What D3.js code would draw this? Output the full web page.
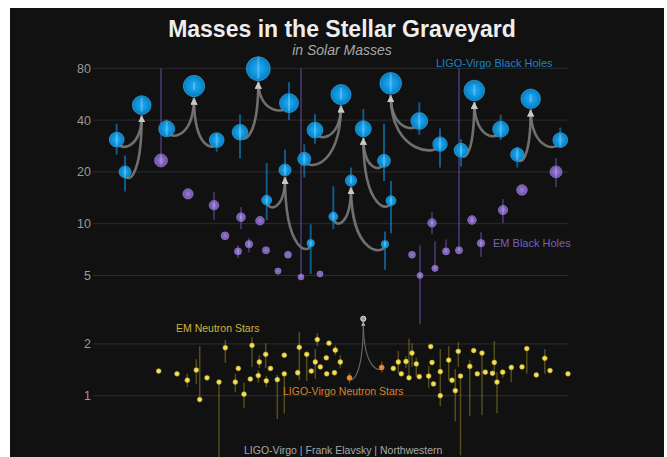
<!DOCTYPE html>
<html>
<head>
<meta charset="utf-8">
<script src="https://cdn.jsdelivr.net/npm/d3@7"></script>
<style>
  body { margin: 0; background: #fff; }
  svg { display: block; font-family: "Liberation Sans", Arial, sans-serif; }
</style>
</head>
<body>
<div id="chart"></div>
<script>
// Masses in solar masses. Each entry is [median, low, high].
// Slots are horizontal positions on an arbitrary 0..475 layout axis.

// LIGO-Virgo binary black hole mergers (GWTC-1)
const bbhEvents = ["GW150914", "GW151012", "GW151226", "GW170104", "GW170608",
                   "GW170729", "GW170809", "GW170814", "GW170818", "GW170823"];
const bbhPrimary = [[35.6, 32.5, 40.3], [23.2, 17.7, 38.1], [13.7, 10.5, 22.5], [30.8, 25.2, 38.1], [11.0, 9.3, 16.5],
                    [50.2, 40.0, 66.4], [35.0, 29.1, 43.3], [30.6, 27.6, 36.2], [35.4, 30.7, 42.9], [39.5, 32.8, 50.7]];
const bbhSecondary = [[30.6, 26.2, 33.6], [13.6, 8.8, 17.7], [7.7, 5.1, 9.9], [20.0, 15.4, 24.9], [7.6, 5.4, 9.0],
                      [34.0, 23.9, 43.1], [23.8, 18.6, 28.9], [25.2, 21.2, 28.0], [26.7, 21.5, 31.0], [29.0, 21.2, 35.7]];
const bbhFinal = [[63.1, 60.1, 66.5], [35.6, 31.8, 46.4], [20.5, 19.0, 26.9], [48.9, 44.9, 54.0], [17.8, 17.1, 21.2],
                  [79.5, 69.3, 94.2], [56.3, 52.5, 61.5], [53.2, 50.7, 56.4], [59.4, 55.6, 64.3], [65.4, 58.0, 75.5]];
// slot of [primary, secondary, remnant]
const bbhSlots = [[73.7, 123.7, 101], [291, 298, 270.3], [173.7, 217.7, 192], [23.7, 32, 48.7], [240.3, 292, 258],
                  [196, 147, 165.3], [222, 211.3, 248], [467.3, 424.3, 437.7], [407.7, 368, 381.3], [326.3, 347, 297.7]];

// LIGO-Virgo binary neutron star merger GW170817
const bnsPrimary = [1.46, 1.36, 1.58];
const bnsSecondary = [1.27, 1.18, 1.36];
const bnsFinal = [2.8, 2.8, 2.8];
const bnsSlots = [288.7, 256.5, 270.3];

// EM black holes (X-ray binaries)
const emBhSlots = [68, 95, 121, 148, 167, 132, 145, 156, 173, 195, 185, 208,
                   227, 319, 327, 339, 342, 353, 366, 379, 388, 410, 429, 463];
const emBhMass = [23.3, 14.9, 12.8, 10.9, 10.4, 8.5, 6.9, 7.6, 7.0, 6.6, 5.3, 4.9,
                  5.1, 6.6, 5.0, 10.1, 5.5, 6.9, 7.0, 10.5, 7.7, 12.0, 15.7, 20.0];
const emBhLow = [22.0, 14.9, 10.5, 9.3, 10.4, 8.5, 6.3, 6.8, 7.0, 6.6, 5.3, 4.9,
                 5.1, 6.6, 2.6, 8.7, 5.5, 6.9, 7.0, 10.0, 6.4, 10.1, 15.7, 16.3];
const emBhHigh = [80, 14.9, 15.3, 12.5, 10.4, 8.5, 7.5, 8.25, 7.0, 6.6, 5.3, 80,
                  5.1, 6.6, 7.5, 11.7, 7.9, 8.1, 80, 11.0, 8.9, 13.9, 15.7, 24.1];

// EM neutron stars (pulsars)
const emNsSlots = [65.7, 84, 94.3, 103.3, 106.7, 114, 126, 132.3, 142.3, 145.3, 151, 157.3,
                   159, 165.3, 166.3, 172.7, 173.3, 177.5, 184.3, 191.3, 191.3, 204.7, 206.3, 213.7,
                   218.3, 222.3, 224.3, 227.3, 233.3, 233.7, 236, 241.5, 242.3, 247.3,
                   300.3, 305.3, 308.3, 313, 316, 319, 323.3, 326.3, 335.7, 337.7, 339, 340.5,
                   347.3, 347.3, 355.7, 359, 362.3, 365.3, 367.5, 376.8, 380.7, 384.3, 389, 392.3,
                   399.5, 401.3, 404, 409.7, 418.3, 429, 433.8, 443.3, 451.8, 457, 475];
const emNsMass = [1.39, 1.34, 1.23, 1.41, 0.95, 1.27, 1.20, 1.90, 1.20, 1.44, 1.02, 1.25,
                  1.96, 1.31, 1.57, 1.74, 1.22, 1.44, 1.24, 1.72, 1.34, 1.36, 1.91, 1.74,
                  1.39, 1.57, 2.12, 1.47, 1.66, 1.34, 2.02, 1.36, 1.84, 1.57,
                  1.44, 1.57, 1.34, 1.58, 1.27, 1.77, 1.53, 1.29, 1.30, 1.93, 1.56, 1.17,
                  1.38, 1.00, 1.61, 1.23, 1.07, 1.81, 1.30, 1.48, 1.83, 1.34, 1.77, 1.37,
                  1.35, 1.56, 1.20, 1.37, 1.46, 1.47, 1.88, 1.32, 1.65, 1.40, 1.34];
const emNsLow = [1.39, 1.34, 1.12, 1.17, 0.95, 1.27, 0.40, 1.55, 1.05, 1.44, 0.85, 1.25,
                 1.47, 1.19, 1.45, 1.45, 1.12, 1.44, 0.73, 1.72, 0.79, 1.31, 1.23, 1.22,
                 1.39, 1.25, 1.94, 1.47, 1.66, 1.34, 2.02, 1.36, 1.72, 1.45,
                 1.44, 1.36, 1.34, 1.45, 1.27, 1.47, 1.29, 1.29, 1.11, 1.93, 1.56, 1.17,
                 0.87, 1.00, 1.23, 1.23, 0.71, 1.47, 0.45, 0.76, 1.83, 1.34, 0.77, 1.37,
                 1.35, 1.37, 0.79, 1.27, 1.20, 1.47, 1.34, 1.32, 1.34, 1.40, 1.34];
const emNsHigh = [1.39, 1.34, 1.34, 1.63, 1.94, 1.27, 1.20, 2.11, 1.34, 1.44, 1.19, 1.25,
                  2.19, 1.41, 1.72, 2.02, 1.30, 1.44, 1.32, 1.72, 1.34, 1.42, 2.35, 1.74,
                  1.39, 1.87, 2.31, 1.47, 1.66, 1.34, 2.02, 1.36, 1.96, 1.72,
                  1.44, 1.82, 1.34, 1.70, 2.14, 2.02, 1.66, 1.29, 1.49, 1.93, 1.56, 1.17,
                  1.87, 1.00, 1.94, 1.23, 1.43, 2.05, 1.30, 1.61, 1.83, 1.34, 1.77, 1.37,
                  1.35, 2.08, 1.37, 1.37, 1.46, 1.47, 1.88, 1.32, 1.87, 1.40, 1.34];

const massTicks = [1, 2, 5, 10, 20, 40, 80];

const width = 667, height = 457;

const x = d3.scaleLinear().domain([0, 475]).range([93, 568]);
const y = d3.scaleLog().domain([1, 80]).range([395.7, 68.3]);
const r = d3.scaleSqrt().domain([0, 80]).range([0, 12]);

const svg = d3.select("#chart")
    .append("svg")
    .attr("width", width)
    .attr("height", height);

svg.append("rect")
    .attr("x", 10).attr("y", 8)
    .attr("width", 654).attr("height", height - 8)
    .attr("fill", "#111111");

const defs = svg.append("defs");

function radial(id, inner, mid, outer) {
    const g = defs.append("radialGradient").attr("id", id);
    g.append("stop").attr("offset", "0%").attr("stop-color", inner);
    g.append("stop").attr("offset", "70%").attr("stop-color", mid);
    g.append("stop").attr("offset", "100%").attr("stop-color", outer);
}
radial("gBlue", "#2aaaf0", "#0a90d8", "#0679bd");
radial("gPurple", "#9a80d6", "#7c5db6", "#6a4ea2");
radial("gYellow", "#fff07a", "#ead23a", "#c9aa1e");
radial("gOrange", "#ffa040", "#e9801c", "#c86a10");

function arrowMarker(id, size, color) {
    defs.append("marker")
        .attr("id", id)
        .attr("viewBox", "0 0 10 10")
        .attr("refX", 10).attr("refY", 5)
        .attr("markerUnits", "userSpaceOnUse")
        .attr("markerWidth", size).attr("markerHeight", size)
        .attr("orient", "auto")
        .append("path")
        .attr("d", "M0,0 L10,5 L0,10 Z")
        .attr("fill", color);
}
arrowMarker("arrowBh", 7, "#c8c8c8");
arrowMarker("arrowNs", 4, "#aaaaaa");

// Grid and axis labels
svg.append("g")
    .selectAll("line")
    .data(massTicks)
    .join("line")
    .attr("x1", 93).attr("x2", 568)
    .attr("y1", d => y(d)).attr("y2", d => y(d))
    .attr("stroke", "#2c2c2c");

svg.append("g")
    .selectAll("text")
    .data(massTicks)
    .join("text")
    .attr("x", 91)
    .attr("y", d => y(d))
    .attr("dy", "0.36em")
    .attr("text-anchor", "end")
    .attr("font-size", "12.5px")
    .attr("fill", "#9a9a9a")
    .text(d => d);

// Merger links: dip below the source, then rise into the remnant
function link(x1, y1, x2, y2, k) {
    return `M${x1},${y1} C${x1},${y1 + k} ${x2},${y1 + k} ${x2},${y2}`;
}

const links = svg.append("g").attr("fill", "none");
bbhEvents.forEach((name, i) => {
    const s = bbhSlots[i];
    const fx = x(s[2]);
    const fy = y(bbhFinal[i][0]) + r(bbhFinal[i][0]) + 1;
    [bbhPrimary[i], bbhSecondary[i]].forEach((m, j) => {
        links.append("path")
            .attr("d", link(x(s[j]), y(m[0]), fx, fy, 12))
            .attr("stroke", "#7a7a7a")
            .attr("stroke-width", 2.6)
            .attr("stroke-opacity", 0.9)
            .attr("marker-end", "url(#arrowBh)");
    });
});
[bnsPrimary, bnsSecondary].forEach((m, j) => {
    links.append("path")
        .attr("d", link(x(bnsSlots[j]), y(m[0]), x(bnsSlots[2]), y(bnsFinal[0]) + 3, 5))
        .attr("stroke", "#6a6a6a")
        .attr("stroke-width", 1.1)
        .attr("marker-end", "url(#arrowNs)");
});

// Draws error bars behind, the body, and a light inner stripe on top
function drawBodies(items, opts) {
    const g = svg.append("g");
    g.selectAll("line.err")
        .data(items.filter(d => d.hi > d.lo))
        .join("line")
        .attr("class", "err")
        .attr("x1", d => x(d.slot)).attr("x2", d => x(d.slot))
        .attr("y1", d => y(d.hi)).attr("y2", d => y(d.lo))
        .attr("stroke", opts.err)
        .attr("stroke-width", opts.errWidth);
    g.selectAll("circle")
        .data(items)
        .join("circle")
        .attr("cx", d => x(d.slot))
        .attr("cy", d => y(d.m))
        .attr("r", d => Math.max(opts.minR, r(d.m)))
        .attr("fill", opts.fill)
        .attr("stroke", opts.stroke)
        .attr("stroke-width", 0.8);
    if (opts.inner) {
        g.selectAll("line.inner")
            .data(items.filter(d => d.hi > d.lo))
            .join("line")
            .attr("class", "inner")
            .attr("x1", d => x(d.slot)).attr("x2", d => x(d.slot))
            .attr("y1", d => Math.max(y(d.hi), y(d.m) - r(d.m) + 1))
            .attr("y2", d => Math.min(y(d.lo), y(d.m) + r(d.m) - 1))
            .attr("stroke", opts.inner)
            .attr("stroke-width", opts.errWidth);
    }
}

const emBh = emBhMass.map((m, i) => ({ slot: emBhSlots[i], m: m, lo: emBhLow[i], hi: emBhHigh[i] }));
drawBodies(emBh, { err: "rgba(120,90,200,0.42)", errWidth: 2, fill: "url(#gPurple)",
                   stroke: "rgba(170,145,225,0.7)", minR: 2, inner: "rgba(190,170,250,0.35)" });

const bbh = [];
bbhEvents.forEach((name, i) => {
    [bbhPrimary[i], bbhSecondary[i], bbhFinal[i]].forEach((m, j) => {
        bbh.push({ slot: bbhSlots[i][j], m: m[0], lo: m[1], hi: m[2] });
    });
});
drawBodies(bbh, { err: "rgba(15,140,220,0.6)", errWidth: 2, fill: "url(#gBlue)",
                  stroke: "rgba(70,185,245,0.7)", minR: 2, inner: "rgba(130,215,255,0.45)" });

const emNs = emNsMass.map((m, i) => ({ slot: emNsSlots[i], m: m, lo: emNsLow[i], hi: emNsHigh[i] }));
drawBodies(emNs, { err: "rgba(205,180,45,0.36)", errWidth: 1.5, fill: "url(#gYellow)",
                   stroke: "rgba(255,240,120,0.5)", minR: 2.4 });

const bns = [bnsPrimary, bnsSecondary].map((m, j) => ({ slot: bnsSlots[j], m: m[0], lo: m[1], hi: m[2] }));
drawBodies(bns, { err: "rgba(230,130,30,0.4)", errWidth: 1.5, fill: "url(#gOrange)",
                  stroke: "rgba(255,170,80,0.6)", minR: 2.5 });

svg.append("circle")
    .attr("cx", x(bnsSlots[2]))
    .attr("cy", y(bnsFinal[0]))
    .attr("r", 2.6)
    .attr("fill", "#9a9a9a")
    .attr("stroke", "#e0e0e0")
    .attr("stroke-width", 1);

// Titles and labels
svg.append("text")
    .attr("x", 342).attr("y", 37)
    .attr("text-anchor", "middle")
    .attr("font-size", "23px")
    .attr("font-weight", "bold")
    .attr("fill", "#eeeeee")
    .text("Masses in the Stellar Graveyard");

svg.append("text")
    .attr("x", 342).attr("y", 55)
    .attr("text-anchor", "middle")
    .attr("font-size", "14px")
    .attr("font-style", "italic")
    .attr("fill", "#a8a8a8")
    .text("in Solar Masses");

const labels = [
    { text: "LIGO-Virgo Black Holes", x: 436, y: 67, size: 11, color: "#1b84c8" },
    { text: "EM Black Holes", x: 493, y: 247, size: 11, color: "#7a60b4" },
    { text: "EM Neutron Stars", x: 176, y: 332, size: 10.5, color: "#cdb43c" },
    { text: "LIGO-Virgo Neutron Stars", x: 283, y: 395, size: 10.5, color: "#d98229" },
    { text: "LIGO-Virgo | Frank Elavsky | Northwestern", x: 244, y: 454, size: 10.5, color: "#a8a8a8" }
];
svg.append("g")
    .selectAll("text")
    .data(labels)
    .join("text")
    .attr("x", d => d.x).attr("y", d => d.y)
    .attr("font-size", d => d.size + "px")
    .attr("fill", d => d.color)
    .text(d => d.text);
</script>
</body>
</html>
